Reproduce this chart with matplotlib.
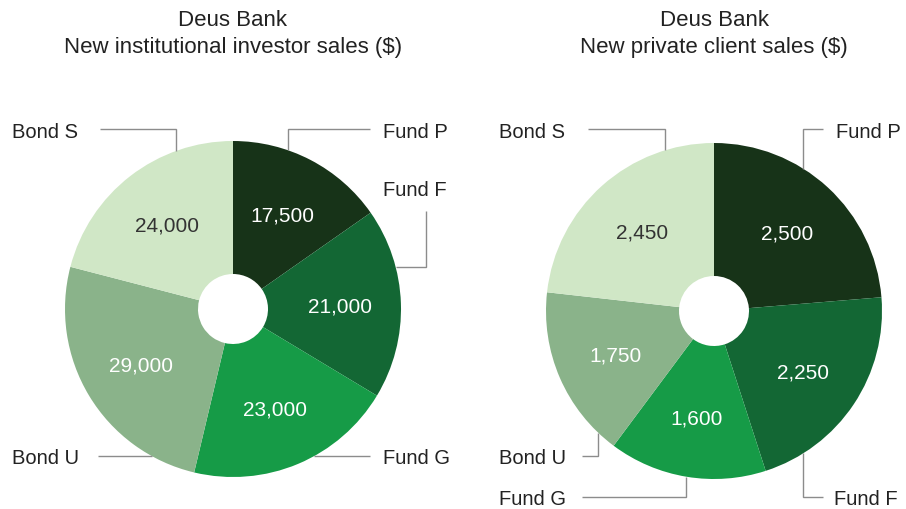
import matplotlib
matplotlib.use("Agg")
import matplotlib.pyplot as plt
import numpy as np

plt.rcParams['font.family'] = ['Liberation Sans', 'DejaVu Sans']

# ---- data ----
categories = ["Fund P", "Fund F", "Fund G", "Bond U", "Bond S"]
institutional_sales = [17500, 21000, 23000, 29000, 24000]
private_sales = [2500, 2250, 1600, 1750, 2450]
title_line1 = ["Deus Bank", "Deus Bank"]
title_line2 = ["New institutional investor sales ($)", "New private client sales ($)"]

colors = ["#173318", "#136734", "#169b47", "#8ab38a", "#d0e7c6"]
value_text_colors = ["white", "white", "white", "white", "#333333"]

W, H = 906, 510
fig = plt.figure(figsize=(W / 100, H / 100), dpi=100)
ax = fig.add_axes([0, 0, 1, 1])


def P(x, y):
    return (x, H - y)


R = 168
HOLE = 35

# leader layout: (first-segment orientation, elbow path in px, label pos)
layouts = [
    {
        "center": (233, 310),
        "leaders": {
            "Bond S": ("v", [(176, 130), (100, 130)], (12, 130)),
            "Fund P": ("v", [(288, 130), (370, 130)], (383, 130)),
            "Fund F": ("h", [(426, 268), (426, 212)], (383, 188)),
            "Fund G": ("h", [(370, 457)], (383, 457)),
            "Bond U": ("h", [(98, 457)], (12, 457)),
        },
        "values": institutional_sales,
    },
    {
        "center": (714, 312),
        "leaders": {
            "Bond S": ("v", [(665, 130), (588, 130)], (499, 130)),
            "Fund P": ("v", [(803, 130), (823, 130)], (836, 130)),
            "Fund F": ("v", [(803, 498), (823, 498)], (834, 498)),
            "Bond U": ("v", [(598, 457), (582, 457)], (499, 457)),
            "Fund G": ("v", [(686, 498), (582, 498)], (499, 498)),
        },
        "values": private_sales,
    },
]

for i, lay in enumerate(layouts):
    cx, cy = lay["center"]
    c = P(cx, cy)
    vals = lay["values"]
    wedges, _ = ax.pie(vals, center=c, radius=R, startangle=90,
                       counterclock=False, colors=colors,
                       wedgeprops=dict(width=R - HOLE, linewidth=0))
    # value labels
    for w, v, tc in zip(wedges, vals, value_text_colors):
        mid = np.deg2rad((w.theta1 + w.theta2) / 2)
        r = 0.64 * R
        ax.text(c[0] + r * np.cos(mid), c[1] + r * np.sin(mid) - 1, f"{v:,}",
                ha="center", va="center", fontsize=15, color=tc)
    # leader lines + category labels
    for name, (kind, path, lpos) in lay["leaders"].items():
        p0 = P(*path[0])
        if kind == "v":
            dx = p0[0] - c[0]
            dy = np.sqrt(max(R * R - dx * dx, 0))
            ay = c[1] + (dy if p0[1] > c[1] else -dy)
            anchor = (p0[0], ay)
        else:
            dy = p0[1] - c[1]
            dx = np.sqrt(max(R * R - dy * dy, 0))
            ax_ = c[0] + (dx if p0[0] > c[0] else -dx)
            anchor = (ax_, p0[1])
        xs = [anchor[0]] + [P(*p)[0] for p in path]
        ys = [anchor[1]] + [P(*p)[1] for p in path]
        ax.plot(xs, ys, color="#8c8c8c", lw=1.0, solid_capstyle="butt",
                solid_joinstyle="miter")
        lx, ly = P(*lpos)
        ax.text(lx, ly - 2, name, ha="left", va="center", fontsize=14.5,
                color="#222222")
    ax.text(*P(cx, 21), title_line1[i], ha="center", va="center",
            fontsize=16, color="#222222")
    ax.text(*P(cx, 48), title_line2[i], ha="center", va="center",
            fontsize=16, color="#222222")

ax.set_xlim(0, W)
ax.set_ylim(0, H)
ax.set_aspect("equal")
ax.axis("off")
fig.savefig("out.png", dpi=100)
